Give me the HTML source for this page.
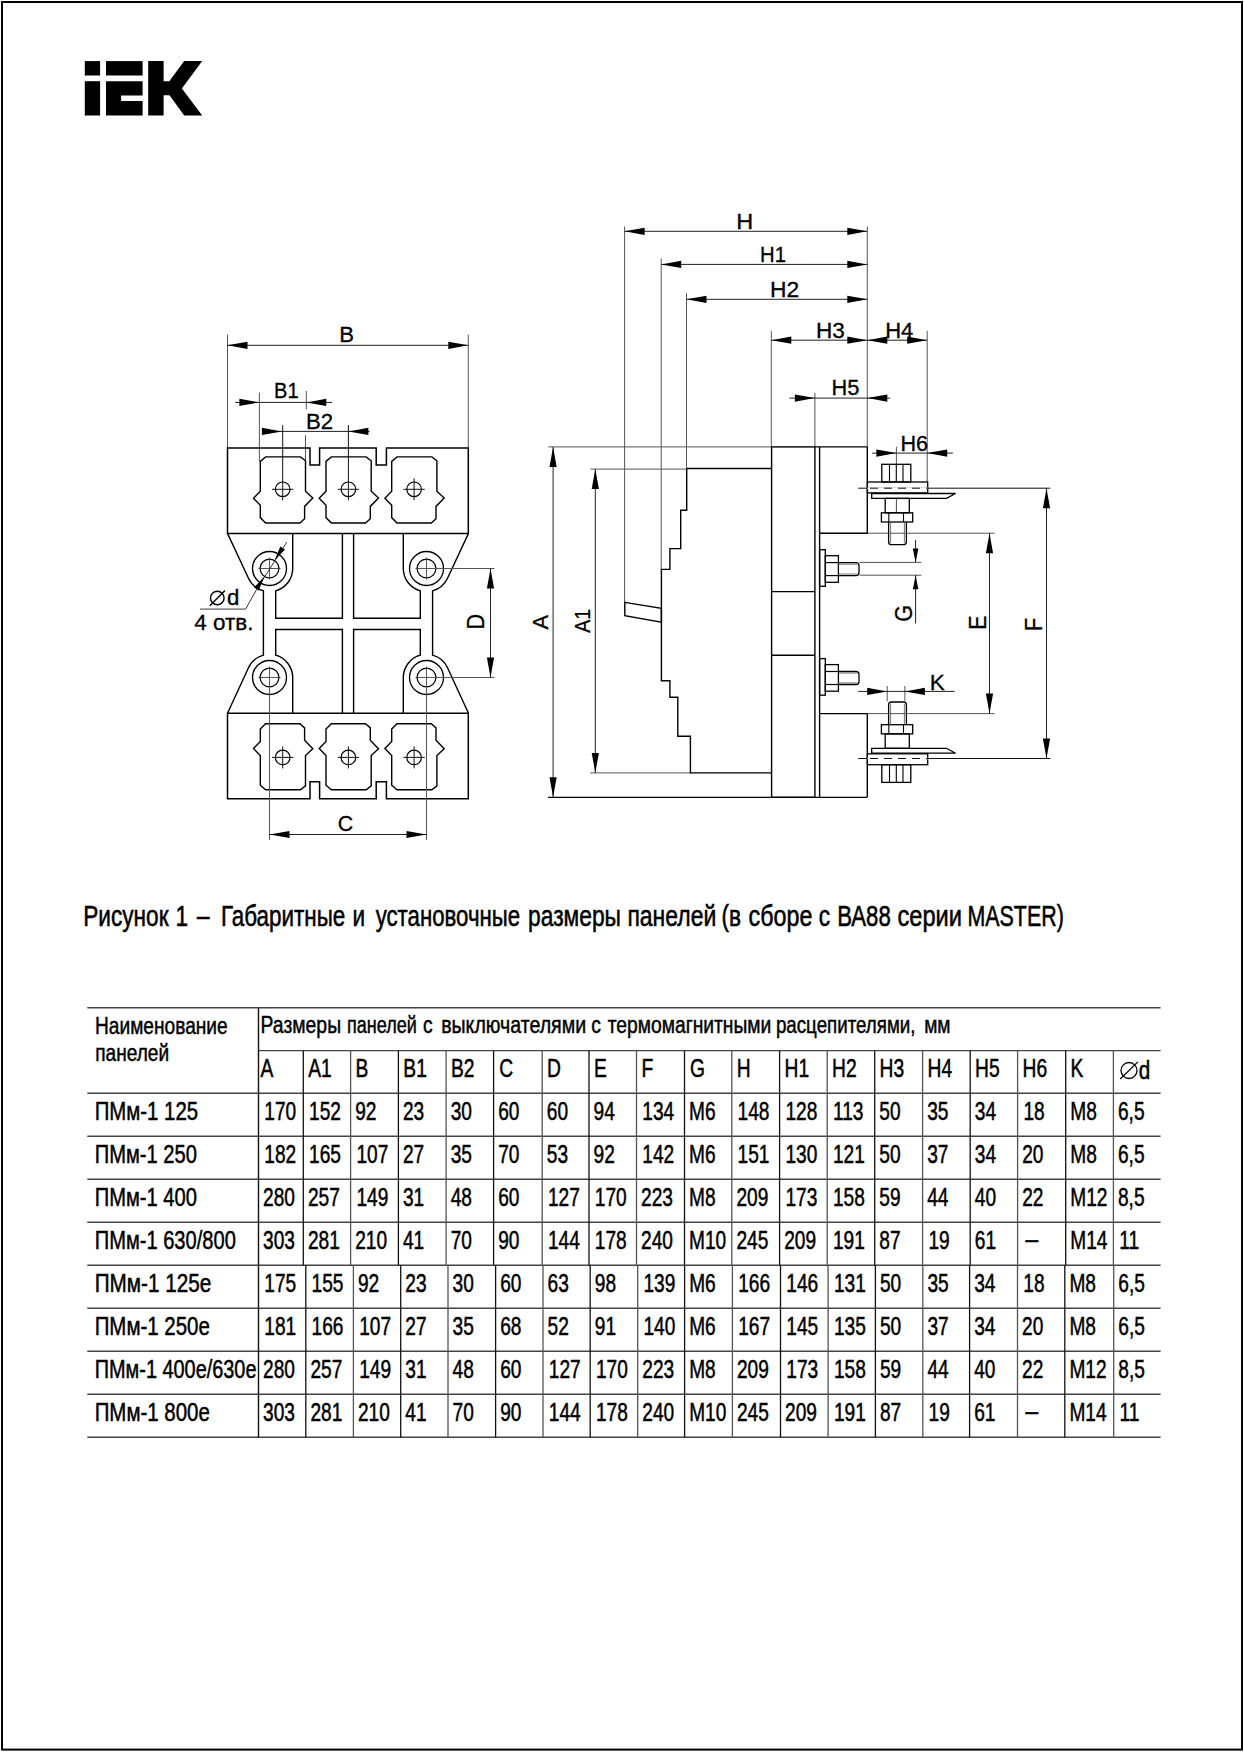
<!DOCTYPE html>
<html><head><meta charset="utf-8"><title>IEK</title><style>html,body{margin:0;padding:0;background:#fff;overflow:hidden}svg{display:block}</style></head><body>
<svg width="1244" height="1752" viewBox="0 0 1244 1752" font-family="'Liberation Sans', sans-serif">
<rect x="0" y="0" width="1244" height="1752" fill="#fff"/>
<rect x="2" y="2" width="1240" height="1747.6" fill="none" stroke="#000" stroke-width="2"/>
<g fill="#000">
<rect x="84.8" y="61.1" width="15.3" height="14.4"/>
<rect x="84.8" y="81.2" width="15.3" height="34.3"/>
<rect x="106" y="61.1" width="36.6" height="14.4"/>
<polygon points="106,81.2 142.6,81.2 142.6,95.5 121.1,95.5 121.1,100.9 142.6,100.9 142.6,115.5 106,115.5"/>
<polygon points="148.2,61.1 163.6,61.1 163.6,81.2 169.3,81.2 184.2,61.1 202.2,61.1 181.9,88.5 202.2,115.5 184.2,115.5 169.5,95.2 163.6,95.2 163.6,115.5 148.2,115.5"/>
</g>
<line x1="227.5" y1="334.6" x2="227.5" y2="448" stroke="#555" stroke-width="1.0"/>
<line x1="468.3" y1="334.6" x2="468.3" y2="448" stroke="#555" stroke-width="1.0"/>
<line x1="227.5" y1="345.3" x2="468.3" y2="345.3" stroke="#222" stroke-width="1.0"/>
<polygon points="227.5,345.3 247.5,341.7 247.5,348.9" fill="#000"/>
<polygon points="468.3,345.3 448.3,348.9 448.3,341.7" fill="#000"/>
<text transform="translate(339.17,341.9) scale(1.0435,1)" font-size="21.24" fill="#000" stroke="#000" stroke-width="0.3">B</text>
<line x1="259.4" y1="392.6" x2="259.4" y2="461.4" stroke="#555" stroke-width="1.0"/>
<line x1="306.3" y1="390.9" x2="306.3" y2="409.5" stroke="#555" stroke-width="1.0"/>
<line x1="305.5" y1="435.3" x2="305.5" y2="461" stroke="#555" stroke-width="1.0"/>
<line x1="235.2" y1="402.4" x2="332" y2="402.4" stroke="#222" stroke-width="1.0"/>
<polygon points="259.4,402.4 239.4,406 239.4,398.8" fill="#000"/>
<polygon points="306.3,402.4 326.3,398.8 326.3,406" fill="#000"/>
<text transform="translate(274.05,397.6) scale(0.9439,1)" font-size="21.24" fill="#000" stroke="#000" stroke-width="0.3">B1</text>
<line x1="262.5" y1="431.4" x2="369.5" y2="431.4" stroke="#222" stroke-width="1.0"/>
<polygon points="281.9,431.4 261.9,435 261.9,427.8" fill="#000"/>
<polygon points="348.4,431.4 368.4,427.8 368.4,435" fill="#000"/>
<text transform="translate(305.97,428.6) scale(1.0455,1)" font-size="21.24" fill="#000" stroke="#000" stroke-width="0.3">B2</text>
<polygon points="227.5,448 310,448 310,465 319.6,465 319.6,448 376.2,448 376.2,465 386.4,465 386.4,448 468.3,448 468.3,533.4 227.5,533.4" fill="none" stroke="#000" stroke-width="1.5" stroke-linejoin="miter"/>
<polygon points="265.6,456.9 300.5,456.9 305.5,460.8 305.5,491.2 312.8,498 304.6,506.4 304.6,518.8 299.9,523 265.6,523 260.3,517.6 260.3,505.3 253.5,498.3 260.3,491.2 260.3,461.4" fill="none" stroke="#000" stroke-width="1.4" stroke-linejoin="miter"/>
<circle cx="282.7" cy="489.3" r="7.3" fill="none" stroke="#000" stroke-width="1.2"/>
<line x1="272" y1="489.3" x2="293.4" y2="489.3" stroke="#111" stroke-width="1.0"/>
<line x1="282.7" y1="425.2" x2="282.7" y2="500.3" stroke="#111" stroke-width="1.0"/>
<polygon points="331.3,456.9 366.2,456.9 371.2,460.8 371.2,491.2 378.5,498 370.3,506.4 370.3,518.8 365.6,523 331.3,523 326,517.6 326,505.3 319.2,498.3 326,491.2 326,461.4" fill="none" stroke="#000" stroke-width="1.4" stroke-linejoin="miter"/>
<circle cx="348.4" cy="489.3" r="7.3" fill="none" stroke="#000" stroke-width="1.2"/>
<line x1="337.7" y1="489.3" x2="359.1" y2="489.3" stroke="#111" stroke-width="1.0"/>
<line x1="348.4" y1="425.2" x2="348.4" y2="500.3" stroke="#111" stroke-width="1.0"/>
<polygon points="397,456.9 431.9,456.9 436.9,460.8 436.9,491.2 444.2,498 436,506.4 436,518.8 431.3,523 397,523 391.7,517.6 391.7,505.3 384.9,498.3 391.7,491.2 391.7,461.4" fill="none" stroke="#000" stroke-width="1.4" stroke-linejoin="miter"/>
<circle cx="414.1" cy="489.3" r="7.3" fill="none" stroke="#000" stroke-width="1.2"/>
<line x1="403.4" y1="489.3" x2="424.8" y2="489.3" stroke="#111" stroke-width="1.0"/>
<line x1="414.1" y1="478.3" x2="414.1" y2="500.3" stroke="#111" stroke-width="1.0"/>
<polygon points="227.5,798.7 310,798.7 310,781.7 319.6,781.7 319.6,798.7 376.2,798.7 376.2,781.7 386.4,781.7 386.4,798.7 468.3,798.7 468.3,713.3 227.5,713.3" fill="none" stroke="#000" stroke-width="1.5" stroke-linejoin="miter"/>
<polygon points="265.6,789.8 300.5,789.8 305.5,785.9 305.5,755.5 312.8,748.7 304.6,740.3 304.6,727.9 299.9,723.7 265.6,723.7 260.3,729.1 260.3,741.4 253.5,748.4 260.3,755.5 260.3,785.3" fill="none" stroke="#000" stroke-width="1.4" stroke-linejoin="miter"/>
<circle cx="282.7" cy="757.4" r="7.3" fill="none" stroke="#000" stroke-width="1.2"/>
<line x1="272" y1="757.4" x2="293.4" y2="757.4" stroke="#111" stroke-width="1.0"/>
<line x1="282.7" y1="746.4" x2="282.7" y2="768.4" stroke="#111" stroke-width="1.0"/>
<polygon points="331.3,789.8 366.2,789.8 371.2,785.9 371.2,755.5 378.5,748.7 370.3,740.3 370.3,727.9 365.6,723.7 331.3,723.7 326,729.1 326,741.4 319.2,748.4 326,755.5 326,785.3" fill="none" stroke="#000" stroke-width="1.4" stroke-linejoin="miter"/>
<circle cx="348.4" cy="757.4" r="7.3" fill="none" stroke="#000" stroke-width="1.2"/>
<line x1="337.7" y1="757.4" x2="359.1" y2="757.4" stroke="#111" stroke-width="1.0"/>
<line x1="348.4" y1="746.4" x2="348.4" y2="768.4" stroke="#111" stroke-width="1.0"/>
<polygon points="397,789.8 431.9,789.8 436.9,785.9 436.9,755.5 444.2,748.7 436,740.3 436,727.9 431.3,723.7 397,723.7 391.7,729.1 391.7,741.4 384.9,748.4 391.7,755.5 391.7,785.3" fill="none" stroke="#000" stroke-width="1.4" stroke-linejoin="miter"/>
<circle cx="414.1" cy="757.4" r="7.3" fill="none" stroke="#000" stroke-width="1.2"/>
<line x1="403.4" y1="757.4" x2="424.8" y2="757.4" stroke="#111" stroke-width="1.0"/>
<line x1="414.1" y1="746.4" x2="414.1" y2="768.4" stroke="#111" stroke-width="1.0"/>
<circle cx="269.5" cy="568.5" r="9.4" fill="none" stroke="#000" stroke-width="1.3"/>
<circle cx="269.5" cy="568.5" r="17" fill="none" stroke="#000" stroke-width="1.3"/>
<line x1="258.5" y1="568.5" x2="280.5" y2="568.5" stroke="#444" stroke-width="0.9"/>
<line x1="269.5" y1="557.5" x2="269.5" y2="579.5" stroke="#444" stroke-width="0.9"/>
<circle cx="426.5" cy="568.5" r="9.4" fill="none" stroke="#000" stroke-width="1.3"/>
<circle cx="426.5" cy="568.5" r="17" fill="none" stroke="#000" stroke-width="1.3"/>
<line x1="415.5" y1="568.5" x2="437.5" y2="568.5" stroke="#444" stroke-width="0.9"/>
<line x1="426.5" y1="557.5" x2="426.5" y2="579.5" stroke="#444" stroke-width="0.9"/>
<circle cx="269.5" cy="677.5" r="9.4" fill="none" stroke="#000" stroke-width="1.3"/>
<circle cx="269.5" cy="677.5" r="17" fill="none" stroke="#000" stroke-width="1.3"/>
<line x1="258.5" y1="677.5" x2="280.5" y2="677.5" stroke="#444" stroke-width="0.9"/>
<line x1="269.5" y1="666.5" x2="269.5" y2="688.5" stroke="#444" stroke-width="0.9"/>
<circle cx="426.5" cy="677.5" r="9.4" fill="none" stroke="#000" stroke-width="1.3"/>
<circle cx="426.5" cy="677.5" r="17" fill="none" stroke="#000" stroke-width="1.3"/>
<line x1="415.5" y1="677.5" x2="437.5" y2="677.5" stroke="#444" stroke-width="0.9"/>
<line x1="426.5" y1="666.5" x2="426.5" y2="688.5" stroke="#444" stroke-width="0.9"/>
<path d="M227.5,533.4 L248.48,578.32 A23.2,23.2 0 0 0 263.4,590.88 L263.4,655.12 A23.2,23.2 0 0 0 248.48,667.68 L227.5,713.3" fill="none" stroke="#000" stroke-width="1.4"/>
<path d="M292.7,533.4 L292.7,568.5 A23.2,23.2 0 0 1 275.7,590.86 L275.7,618.2 L342.4,618.2 L342.4,533.4" fill="none" stroke="#000" stroke-width="1.4"/>
<path d="M292.7,713.3 L292.7,677.5 A23.2,23.2 0 0 0 275.7,655.14 L275.7,629.5 L342.4,629.5 L342.4,713.3" fill="none" stroke="#000" stroke-width="1.4"/>
<path d="M468.5,533.4 L447.52,578.32 A23.2,23.2 0 0 1 432.6,590.88 L432.6,655.12 A23.2,23.2 0 0 1 447.52,667.68 L468.5,713.3" fill="none" stroke="#000" stroke-width="1.4"/>
<path d="M403.3,533.4 L403.3,568.5 A23.2,23.2 0 0 0 420.3,590.86 L420.3,618.2 L353.6,618.2 L353.6,533.4" fill="none" stroke="#000" stroke-width="1.4"/>
<path d="M403.3,713.3 L403.3,677.5 A23.2,23.2 0 0 1 420.3,655.14 L420.3,629.5 L353.6,629.5 L353.6,713.3" fill="none" stroke="#000" stroke-width="1.4"/>
<line x1="286.8" y1="542" x2="256.4" y2="589.8" stroke="#222" stroke-width="0.9"/>
<line x1="256.4" y1="589.8" x2="245.6" y2="609.1" stroke="#222" stroke-width="0.9"/>
<line x1="245.6" y1="609.1" x2="199.9" y2="609.1" stroke="#222" stroke-width="0.9"/>
<polygon points="274.56,560.58 280.32,546.45 284.95,549.42" fill="#000"/>
<polygon points="264.44,576.42 258.68,590.55 254.05,587.58" fill="#000"/>
<circle cx="217.3" cy="598" r="6.8" fill="none" stroke="#000" stroke-width="1.4"/>
<line x1="209.8" y1="605.8" x2="225" y2="590.4" stroke="#000" stroke-width="1.4"/>
<text transform="translate(227.06,605.2) scale(1.0393,1)" font-size="21.38" fill="#000" stroke="#000" stroke-width="0.3">d</text>
<text transform="translate(194.3,630.3) scale(1.0017,1)" font-size="22.40" fill="#000" stroke="#000" stroke-width="0.3">4 отв.</text>
<line x1="426.5" y1="568.5" x2="494.4" y2="568.5" stroke="#555" stroke-width="1.0"/>
<line x1="426.5" y1="677.5" x2="494.4" y2="677.5" stroke="#555" stroke-width="1.0"/>
<line x1="490.5" y1="568.5" x2="490.5" y2="677.5" stroke="#222" stroke-width="1.0"/>
<polygon points="490.5,568.5 494.1,588.5 486.9,588.5" fill="#000"/>
<polygon points="490.5,677.5 486.9,657.5 494.1,657.5" fill="#000"/>
<text transform="translate(484.3,629.48) rotate(-90) scale(0.9225,1)" font-size="23.42" fill="#000" stroke="#000" stroke-width="0.3">D</text>
<line x1="269.5" y1="677.5" x2="269.5" y2="840" stroke="#555" stroke-width="1.0"/>
<line x1="426.5" y1="677.5" x2="426.5" y2="840" stroke="#555" stroke-width="1.0"/>
<line x1="269.5" y1="834.5" x2="426.5" y2="834.5" stroke="#222" stroke-width="1.0"/>
<polygon points="269.5,834.5 289.5,830.9 289.5,838.1" fill="#000"/>
<polygon points="426.5,834.5 406.5,838.1 406.5,830.9" fill="#000"/>
<text transform="translate(337.63,831.1) scale(1.0051,1)" font-size="21.24" fill="#000" stroke="#000" stroke-width="0.3">C</text>
<line x1="624.6" y1="226.4" x2="624.6" y2="602.4" stroke="#555" stroke-width="1.0"/>
<line x1="661.2" y1="258.5" x2="661.2" y2="569.4" stroke="#555" stroke-width="1.0"/>
<line x1="686.5" y1="293.4" x2="686.5" y2="468.6" stroke="#555" stroke-width="1.0"/>
<line x1="771.3" y1="330.9" x2="771.3" y2="447" stroke="#555" stroke-width="1.0"/>
<line x1="867.3" y1="226.4" x2="867.3" y2="447" stroke="#555" stroke-width="1.0"/>
<line x1="927.2" y1="330.9" x2="927.2" y2="482" stroke="#555" stroke-width="1.0"/>
<line x1="814.9" y1="392.8" x2="814.9" y2="447" stroke="#555" stroke-width="1.0"/>
<line x1="896.4" y1="446.7" x2="896.4" y2="464.3" stroke="#555" stroke-width="1.0"/>
<line x1="624.6" y1="231.3" x2="867.3" y2="231.3" stroke="#222" stroke-width="1.0"/>
<polygon points="624.6,231.3 644.6,227.7 644.6,234.9" fill="#000"/>
<polygon points="867.3,231.3 847.3,234.9 847.3,227.7" fill="#000"/>
<text transform="translate(736.16,228.7) scale(1.0559,1)" font-size="22.25" fill="#000" stroke="#000" stroke-width="0.3">H</text>
<line x1="661.2" y1="264.4" x2="867.3" y2="264.4" stroke="#222" stroke-width="1.0"/>
<polygon points="661.2,264.4 681.2,260.8 681.2,268" fill="#000"/>
<polygon points="867.3,264.4 847.3,268 847.3,260.8" fill="#000"/>
<text transform="translate(760.12,261.9) scale(0.9124,1)" font-size="22.25" fill="#000" stroke="#000" stroke-width="0.3">H1</text>
<line x1="686.5" y1="299.3" x2="867.3" y2="299.3" stroke="#222" stroke-width="1.0"/>
<polygon points="686.5,299.3 706.5,295.7 706.5,302.9" fill="#000"/>
<polygon points="867.3,299.3 847.3,302.9 847.3,295.7" fill="#000"/>
<text transform="translate(770.01,296.8) scale(1.0282,1)" font-size="22.25" fill="#000" stroke="#000" stroke-width="0.3">H2</text>
<line x1="771.3" y1="340.2" x2="927.2" y2="340.2" stroke="#222" stroke-width="1.0"/>
<polygon points="771.3,340.2 791.3,336.6 791.3,343.8" fill="#000"/>
<polygon points="867.3,340.2 847.3,343.8 847.3,336.6" fill="#000"/>
<polygon points="867.3,340.2 887.3,336.6 887.3,343.8" fill="#000"/>
<polygon points="927.2,340.2 907.2,343.8 907.2,336.6" fill="#000"/>
<text transform="translate(816.04,337.7) scale(1.0480,1)" font-size="21.53" fill="#000" stroke="#000" stroke-width="0.3">H3</text>
<text transform="translate(885.18,337.7) scale(1.0226,1)" font-size="21.53" fill="#000" stroke="#000" stroke-width="0.3">H4</text>
<line x1="789.4" y1="398.1" x2="890.2" y2="398.1" stroke="#222" stroke-width="1.0"/>
<polygon points="814.9,398.1 794.9,401.7 794.9,394.5" fill="#000"/>
<polygon points="867.3,398.1 887.3,394.5 887.3,401.7" fill="#000"/>
<text transform="translate(831.4,395.2) scale(1.0135,1)" font-size="21.53" fill="#000" stroke="#000" stroke-width="0.3">H5</text>
<line x1="872.2" y1="453.1" x2="952.9" y2="453.1" stroke="#222" stroke-width="1.0"/>
<polygon points="896.4,453.1 876.4,456.7 876.4,449.5" fill="#000"/>
<polygon points="927.2,453.1 947.2,449.5 947.2,456.7" fill="#000"/>
<text transform="translate(900.52,451.2) scale(0.9902,1)" font-size="21.82" fill="#000" stroke="#000" stroke-width="0.3">H6</text>
<line x1="548.3" y1="446.9" x2="771.6" y2="446.9" stroke="#555" stroke-width="1.0"/>
<line x1="548" y1="797.3" x2="867.3" y2="797.3" stroke="#000" stroke-width="1.3"/>
<line x1="553.1" y1="446.9" x2="553.1" y2="797.3" stroke="#222" stroke-width="1.0"/>
<polygon points="553.1,446.9 556.7,466.9 549.5,466.9" fill="#000"/>
<polygon points="553.1,797.3 549.5,777.3 556.7,777.3" fill="#000"/>
<text transform="translate(547.9,629.45) rotate(-90) scale(0.9584,1)" font-size="22.84" fill="#000" stroke="#000" stroke-width="0.3">A</text>
<line x1="590.3" y1="469.1" x2="686.7" y2="469.1" stroke="#555" stroke-width="1.0"/>
<line x1="590.3" y1="772.9" x2="690.4" y2="772.9" stroke="#555" stroke-width="1.0"/>
<line x1="595.3" y1="469.1" x2="595.3" y2="772.9" stroke="#222" stroke-width="1.0"/>
<polygon points="595.3,469.1 598.9,489.1 591.7,489.1" fill="#000"/>
<polygon points="595.3,772.9 591.7,752.9 598.9,752.9" fill="#000"/>
<text transform="translate(590,632.65) rotate(-90) scale(0.8607,1)" font-size="22.69" fill="#000" stroke="#000" stroke-width="0.3">A1</text>
<polyline points="686.7,468.6 771.6,468.6" fill="none" stroke="#000" stroke-width="1.5" stroke-linejoin="miter"/>
<polyline points="686.7,468.6 686.7,510.3 680.7,510.3 680.7,548.6 669.9,548.6 669.9,569.4 661.4,569.4 661.4,680.8 669.9,680.8 669.9,697.2 677.8,697.2 677.8,736.2 690.4,736.2 690.4,772.9 771.6,772.9" fill="none" stroke="#000" stroke-width="1.4" stroke-linejoin="miter"/>
<polygon points="624.8,602.4 661.4,608.4 661.4,622.2 624.8,615.7" fill="none" stroke="#000" stroke-width="1.4" stroke-linejoin="miter"/>
<rect x="771.6" y="446.9" width="43.3" height="350.4" fill="none" stroke="#000" stroke-width="1.4"/>
<line x1="819.6" y1="446.9" x2="819.6" y2="797.3" stroke="#000" stroke-width="1.4"/>
<line x1="771.6" y1="591.6" x2="814.9" y2="591.6" stroke="#000" stroke-width="1.4"/>
<line x1="771.6" y1="655.3" x2="814.9" y2="655.3" stroke="#000" stroke-width="1.4"/>
<line x1="814.9" y1="446.9" x2="867.3" y2="446.9" stroke="#000" stroke-width="1.4"/>
<polyline points="867.3,446.9 867.3,533.2 819.6,533.2" fill="none" stroke="#000" stroke-width="1.4" stroke-linejoin="miter"/>
<polyline points="819.6,713.6 867.3,713.6 867.3,797.3" fill="none" stroke="#000" stroke-width="1.4" stroke-linejoin="miter"/>
<rect x="819.6" y="549.7" width="5.7" height="36.6" fill="none" stroke="#000" stroke-width="1.3"/>
<rect x="825.3" y="555.7" width="13.1" height="26.6" fill="none" stroke="#000" stroke-width="1.3"/>
<line x1="825.3" y1="562.6" x2="838.4" y2="562.6" stroke="#000" stroke-width="1.2"/>
<line x1="825.3" y1="575.6" x2="838.4" y2="575.6" stroke="#000" stroke-width="1.2"/>
<path d="M838.4,562.6 L856,562.6 Q859,562.6 859,565.6 L859,572.6 Q859,575.6 856,575.6 L838.4,575.6" fill="none" stroke="#000" stroke-width="1.3"/>
<line x1="838.4" y1="564.2" x2="857" y2="564.2" stroke="#555" stroke-width="0.8"/>
<line x1="838.4" y1="574" x2="857" y2="574" stroke="#555" stroke-width="0.8"/>
<rect x="819.6" y="658.6" width="5.7" height="36.6" fill="none" stroke="#000" stroke-width="1.3"/>
<rect x="825.3" y="664.6" width="13.1" height="26.6" fill="none" stroke="#000" stroke-width="1.3"/>
<line x1="825.3" y1="671.5" x2="838.4" y2="671.5" stroke="#000" stroke-width="1.2"/>
<line x1="825.3" y1="684.5" x2="838.4" y2="684.5" stroke="#000" stroke-width="1.2"/>
<path d="M838.4,671.5 L856,671.5 Q859,671.5 859,674.5 L859,681.5 Q859,684.5 856,684.5 L838.4,684.5" fill="none" stroke="#000" stroke-width="1.3"/>
<line x1="838.4" y1="673.1" x2="857" y2="673.1" stroke="#555" stroke-width="0.8"/>
<line x1="838.4" y1="682.9" x2="857" y2="682.9" stroke="#555" stroke-width="0.8"/>
<rect x="867.4" y="482" width="60.3" height="10.9" fill="none" stroke="#000" stroke-width="1.3"/>
<line x1="858.2" y1="488.2" x2="1050.3" y2="488.2" stroke="#111" stroke-width="1.0"/>
<line x1="867.4" y1="488.2" x2="927.7" y2="488.2" stroke="#fff" stroke-width="1.4"/>
<line x1="870" y1="488.2" x2="927.7" y2="488.2" stroke="#111" stroke-width="1.0" stroke-dasharray="8,6"/>
<polygon points="871.7,493.5 955.6,493.5 946.5,498.4 871.7,498.4" fill="none" stroke="#000" stroke-width="1.3" stroke-linejoin="miter"/>
<rect x="881.8" y="464.3" width="29" height="17.7" fill="none" stroke="#000" stroke-width="1.3"/>
<line x1="889.5" y1="464.3" x2="889.5" y2="482" stroke="#000" stroke-width="1.1"/>
<line x1="896.3" y1="464.3" x2="896.3" y2="482" stroke="#000" stroke-width="1.1"/>
<line x1="903" y1="464.3" x2="903" y2="482" stroke="#000" stroke-width="1.1"/>
<rect x="885.2" y="498.4" width="24.1" height="14.4" fill="none" stroke="#000" stroke-width="1.3"/>
<line x1="896.4" y1="498.4" x2="896.4" y2="512.8" stroke="#333" stroke-width="0.9"/>
<rect x="881.4" y="512.8" width="31.3" height="9.2" fill="none" stroke="#000" stroke-width="1.3"/>
<line x1="888.8" y1="512.8" x2="888.8" y2="522" stroke="#000" stroke-width="1.1"/>
<line x1="903.5" y1="512.8" x2="903.5" y2="522" stroke="#000" stroke-width="1.1"/>
<path d="M888.6,522 L888.6,541.7 Q888.6,544.7 891.6,544.7 L903.4,544.7 Q906.4,544.7 906.4,541.7 L906.4,522" fill="none" stroke="#000" stroke-width="1.3"/>
<line x1="890.6" y1="522" x2="890.6" y2="542.7" stroke="#555" stroke-width="0.8"/>
<line x1="904.4" y1="522" x2="904.4" y2="542.7" stroke="#555" stroke-width="0.8"/>
<rect x="867.4" y="753.8" width="60.3" height="10.9" fill="none" stroke="#000" stroke-width="1.3"/>
<line x1="858.2" y1="758.5" x2="1050.3" y2="758.5" stroke="#111" stroke-width="1.0"/>
<line x1="867.4" y1="758.5" x2="927.7" y2="758.5" stroke="#fff" stroke-width="1.4"/>
<line x1="870" y1="758.5" x2="927.7" y2="758.5" stroke="#111" stroke-width="1.0" stroke-dasharray="8,6"/>
<polygon points="871.7,753.2 955.6,753.2 946.5,748.3 871.7,748.3" fill="none" stroke="#000" stroke-width="1.3" stroke-linejoin="miter"/>
<rect x="881.8" y="764.7" width="29" height="17.7" fill="none" stroke="#000" stroke-width="1.3"/>
<line x1="889.5" y1="782.4" x2="889.5" y2="764.7" stroke="#000" stroke-width="1.1"/>
<line x1="896.3" y1="782.4" x2="896.3" y2="764.7" stroke="#000" stroke-width="1.1"/>
<line x1="903" y1="782.4" x2="903" y2="764.7" stroke="#000" stroke-width="1.1"/>
<rect x="885.2" y="733.9" width="24.1" height="14.4" fill="none" stroke="#000" stroke-width="1.3"/>
<rect x="881.4" y="724.7" width="31.3" height="9.2" fill="none" stroke="#000" stroke-width="1.3"/>
<line x1="888.8" y1="733.9" x2="888.8" y2="724.7" stroke="#000" stroke-width="1.1"/>
<line x1="903.5" y1="733.9" x2="903.5" y2="724.7" stroke="#000" stroke-width="1.1"/>
<path d="M888.6,724.7 L888.6,705 Q888.6,702 891.6,702 L903.4,702 Q906.4,702 906.4,705 L906.4,724.7" fill="none" stroke="#000" stroke-width="1.3"/>
<line x1="890.6" y1="724.7" x2="890.6" y2="704" stroke="#555" stroke-width="0.8"/>
<line x1="904.4" y1="724.7" x2="904.4" y2="704" stroke="#555" stroke-width="0.8"/>
<line x1="867.3" y1="533.2" x2="994.6" y2="533.2" stroke="#555" stroke-width="1.0"/>
<line x1="867.3" y1="713.6" x2="994.6" y2="713.6" stroke="#555" stroke-width="1.0"/>
<line x1="989.5" y1="533.2" x2="989.5" y2="713.6" stroke="#222" stroke-width="1.0"/>
<polygon points="989.5,533.2 993.1,553.2 985.9,553.2" fill="#000"/>
<polygon points="989.5,713.6 985.9,693.6 993.1,693.6" fill="#000"/>
<text transform="translate(986.1,629.76) rotate(-90) scale(0.9019,1)" font-size="23.71" fill="#000" stroke="#000" stroke-width="0.3">E</text>
<line x1="1046.5" y1="488.2" x2="1046.5" y2="758.5" stroke="#222" stroke-width="1.0"/>
<polygon points="1046.5,488.2 1050.1,508.2 1042.9,508.2" fill="#000"/>
<polygon points="1046.5,758.5 1042.9,738.5 1050.1,738.5" fill="#000"/>
<text transform="translate(1042.4,630.98) rotate(-90) scale(0.9084,1)" font-size="23.71" fill="#000" stroke="#000" stroke-width="0.3">F</text>
<line x1="859.5" y1="562.4" x2="921.4" y2="562.4" stroke="#555" stroke-width="1.0"/>
<line x1="859.5" y1="575.2" x2="921.4" y2="575.2" stroke="#555" stroke-width="1.0"/>
<line x1="915.6" y1="540.1" x2="915.6" y2="562.4" stroke="#222" stroke-width="1.0"/>
<line x1="915.6" y1="575.2" x2="915.6" y2="623.4" stroke="#222" stroke-width="1.0"/>
<polygon points="915.6,562.4 912.85,548.4 918.35,548.4" fill="#000"/>
<polygon points="915.6,575.2 918.35,589.2 912.85,589.2" fill="#000"/>
<text transform="translate(912.4,621.68) rotate(-90) scale(0.9114,1)" font-size="23.71" fill="#000" stroke="#000" stroke-width="0.3">G</text>
<line x1="887.2" y1="686" x2="887.2" y2="701.4" stroke="#555" stroke-width="1.0"/>
<line x1="904.9" y1="686" x2="904.9" y2="701.4" stroke="#555" stroke-width="1.0"/>
<line x1="858.2" y1="691.4" x2="954.7" y2="691.4" stroke="#222" stroke-width="1.0"/>
<polygon points="887.2,691.4 867.2,695 867.2,687.8" fill="#000"/>
<polygon points="904.9,691.4 924.9,687.8 924.9,695" fill="#000"/>
<text transform="translate(929.64,689.6) scale(1.0192,1)" font-size="22.11" fill="#000" stroke="#000" stroke-width="0.3">K</text>
<text transform="translate(83.23,926.3) scale(0.7802,1)" font-size="29.00" fill="#000" stroke="#000" stroke-width="0.55">Рисунок</text>
<text transform="translate(175.5,926.3) scale(0.7800,1)" font-size="29.00" fill="#000" stroke="#000" stroke-width="0.55">1</text>
<text transform="translate(197,926.3) scale(0.7800,1)" font-size="29.00" fill="#000" stroke="#000" stroke-width="0.55">–</text>
<text transform="translate(220.95,926.3) scale(0.7733,1)" font-size="29.00" fill="#000" stroke="#000" stroke-width="0.55">Габаритные</text>
<text transform="translate(352.42,926.3) scale(0.7800,1)" font-size="29.00" fill="#000" stroke="#000" stroke-width="0.55">и</text>
<text transform="translate(375.64,926.3) scale(0.7663,1)" font-size="29.00" fill="#000" stroke="#000" stroke-width="0.55">установочные</text>
<text transform="translate(528.02,926.3) scale(0.7867,1)" font-size="29.00" fill="#000" stroke="#000" stroke-width="0.55">размеры</text>
<text transform="translate(627.39,926.3) scale(0.7917,1)" font-size="29.00" fill="#000" stroke="#000" stroke-width="0.55">панелей</text>
<text transform="translate(721.49,926.3) scale(0.7800,1)" font-size="29.00" fill="#000" stroke="#000" stroke-width="0.55">(в</text>
<text transform="translate(748.61,926.3) scale(0.8026,1)" font-size="29.00" fill="#000" stroke="#000" stroke-width="0.55">сборе</text>
<text transform="translate(818.74,926.3) scale(0.7800,1)" font-size="29.00" fill="#000" stroke="#000" stroke-width="0.55">с</text>
<text transform="translate(837.17,926.3) scale(0.7658,1)" font-size="29.00" fill="#000" stroke="#000" stroke-width="0.55">ВА88</text>
<text transform="translate(897.49,926.3) scale(0.8155,1)" font-size="29.00" fill="#000" stroke="#000" stroke-width="0.55">серии</text>
<text transform="translate(967.43,926.3) scale(0.7387,1)" font-size="29.00" fill="#000" stroke="#000" stroke-width="0.55">MASTER)</text>
<line x1="87.3" y1="1007.7" x2="1160.6" y2="1007.7" stroke="#444" stroke-width="1.4"/>
<line x1="258.5" y1="1050.6" x2="1160.6" y2="1050.6" stroke="#444" stroke-width="1.4"/>
<line x1="87.3" y1="1093.3" x2="1160.6" y2="1093.3" stroke="#444" stroke-width="1.4"/>
<line x1="87.3" y1="1136.3" x2="1160.6" y2="1136.3" stroke="#444" stroke-width="1.4"/>
<line x1="87.3" y1="1179.3" x2="1160.6" y2="1179.3" stroke="#444" stroke-width="1.4"/>
<line x1="87.3" y1="1222.3" x2="1160.6" y2="1222.3" stroke="#444" stroke-width="1.4"/>
<line x1="87.3" y1="1265.3" x2="1160.6" y2="1265.3" stroke="#444" stroke-width="1.4"/>
<line x1="87.3" y1="1308.3" x2="1160.6" y2="1308.3" stroke="#444" stroke-width="1.4"/>
<line x1="87.3" y1="1351.3" x2="1160.6" y2="1351.3" stroke="#444" stroke-width="1.4"/>
<line x1="87.3" y1="1394.3" x2="1160.6" y2="1394.3" stroke="#444" stroke-width="1.4"/>
<line x1="87.3" y1="1437.3" x2="1160.6" y2="1437.3" stroke="#444" stroke-width="1.4"/>
<line x1="258.5" y1="1007.7" x2="258.5" y2="1437.3" stroke="#111" stroke-width="1.4"/>
<line x1="303.3" y1="1050.6" x2="303.3" y2="1265.3" stroke="#111" stroke-width="1.3"/>
<line x1="350.6" y1="1050.6" x2="350.6" y2="1265.3" stroke="#555" stroke-width="1.3"/>
<line x1="398.4" y1="1050.6" x2="398.4" y2="1265.3" stroke="#111" stroke-width="1.3"/>
<line x1="446.1" y1="1050.6" x2="446.1" y2="1265.3" stroke="#555" stroke-width="1.3"/>
<line x1="493.6" y1="1050.6" x2="493.6" y2="1265.3" stroke="#111" stroke-width="1.3"/>
<line x1="542.2" y1="1050.6" x2="542.2" y2="1265.3" stroke="#555" stroke-width="1.3"/>
<line x1="589" y1="1050.6" x2="589" y2="1265.3" stroke="#111" stroke-width="1.3"/>
<line x1="636.5" y1="1050.6" x2="636.5" y2="1265.3" stroke="#555" stroke-width="1.3"/>
<line x1="684.5" y1="1050.6" x2="684.5" y2="1265.3" stroke="#111" stroke-width="1.3"/>
<line x1="731.8" y1="1050.6" x2="731.8" y2="1265.3" stroke="#555" stroke-width="1.3"/>
<line x1="779.6" y1="1050.6" x2="779.6" y2="1265.3" stroke="#111" stroke-width="1.3"/>
<line x1="827.2" y1="1050.6" x2="827.2" y2="1265.3" stroke="#555" stroke-width="1.3"/>
<line x1="874.7" y1="1050.6" x2="874.7" y2="1265.3" stroke="#111" stroke-width="1.3"/>
<line x1="922.6" y1="1050.6" x2="922.6" y2="1265.3" stroke="#555" stroke-width="1.3"/>
<line x1="970.2" y1="1050.6" x2="970.2" y2="1265.3" stroke="#111" stroke-width="1.3"/>
<line x1="1017.6" y1="1050.6" x2="1017.6" y2="1265.3" stroke="#555" stroke-width="1.3"/>
<line x1="1065.7" y1="1050.6" x2="1065.7" y2="1265.3" stroke="#111" stroke-width="1.3"/>
<line x1="1113.4" y1="1050.6" x2="1113.4" y2="1265.3" stroke="#555" stroke-width="1.3"/>
<line x1="305.8" y1="1265.3" x2="305.8" y2="1437.3" stroke="#111" stroke-width="1.3"/>
<line x1="353.4" y1="1265.3" x2="353.4" y2="1437.3" stroke="#555" stroke-width="1.3"/>
<line x1="400.7" y1="1265.3" x2="400.7" y2="1437.3" stroke="#111" stroke-width="1.3"/>
<line x1="448" y1="1265.3" x2="448" y2="1437.3" stroke="#555" stroke-width="1.3"/>
<line x1="495.6" y1="1265.3" x2="495.6" y2="1437.3" stroke="#111" stroke-width="1.3"/>
<line x1="543" y1="1265.3" x2="543" y2="1437.3" stroke="#555" stroke-width="1.3"/>
<line x1="590.2" y1="1265.3" x2="590.2" y2="1437.3" stroke="#111" stroke-width="1.3"/>
<line x1="637.7" y1="1265.3" x2="637.7" y2="1437.3" stroke="#555" stroke-width="1.3"/>
<line x1="684.6" y1="1265.3" x2="684.6" y2="1437.3" stroke="#111" stroke-width="1.3"/>
<line x1="732.4" y1="1265.3" x2="732.4" y2="1437.3" stroke="#555" stroke-width="1.3"/>
<line x1="780.5" y1="1265.3" x2="780.5" y2="1437.3" stroke="#111" stroke-width="1.3"/>
<line x1="828.1" y1="1265.3" x2="828.1" y2="1437.3" stroke="#555" stroke-width="1.3"/>
<line x1="875.4" y1="1265.3" x2="875.4" y2="1437.3" stroke="#111" stroke-width="1.3"/>
<line x1="922.8" y1="1265.3" x2="922.8" y2="1437.3" stroke="#555" stroke-width="1.3"/>
<line x1="969.6" y1="1265.3" x2="969.6" y2="1437.3" stroke="#111" stroke-width="1.3"/>
<line x1="1017.5" y1="1265.3" x2="1017.5" y2="1437.3" stroke="#555" stroke-width="1.3"/>
<line x1="1064.8" y1="1265.3" x2="1064.8" y2="1437.3" stroke="#111" stroke-width="1.3"/>
<line x1="1113.7" y1="1265.3" x2="1113.7" y2="1437.3" stroke="#555" stroke-width="1.3"/>
<text transform="translate(95.02,1033.5) scale(0.7784,1)" font-size="24.60" fill="#000" stroke="#000" stroke-width="0.5">Наименование</text>
<text transform="translate(95.26,1061.2) scale(0.7754,1)" font-size="24.60" fill="#000" stroke="#000" stroke-width="0.5">панелей</text>
<text transform="translate(260.6,1033.3) scale(0.7876,1)" font-size="24.60" fill="#000" stroke="#000" stroke-width="0.5">Размеры</text>
<text transform="translate(346.94,1033.3) scale(0.7340,1)" font-size="24.60" fill="#000" stroke="#000" stroke-width="0.5">панелей</text>
<text transform="translate(422.88,1033.3) scale(0.7800,1)" font-size="24.60" fill="#000" stroke="#000" stroke-width="0.5">с</text>
<text transform="translate(441.13,1033.3) scale(0.7965,1)" font-size="24.60" fill="#000" stroke="#000" stroke-width="0.5">выключателями</text>
<text transform="translate(591.28,1033.3) scale(0.7800,1)" font-size="24.60" fill="#000" stroke="#000" stroke-width="0.5">с</text>
<text transform="translate(607.76,1033.3) scale(0.7830,1)" font-size="24.60" fill="#000" stroke="#000" stroke-width="0.5">термомагнитными</text>
<text transform="translate(775.88,1033.3) scale(0.7626,1)" font-size="24.60" fill="#000" stroke="#000" stroke-width="0.5">расцепителями,</text>
<text transform="translate(924.16,1033.3) scale(0.7800,1)" font-size="24.60" fill="#000" stroke="#000" stroke-width="0.5">мм</text>
<text transform="translate(260.55,1076.9) scale(0.7600,1)" font-size="25.30" fill="#000" stroke="#000" stroke-width="0.5">A</text>
<text transform="translate(308.15,1076.9) scale(0.7600,1)" font-size="25.30" fill="#000" stroke="#000" stroke-width="0.5">A1</text>
<text transform="translate(355.51,1076.9) scale(0.7600,1)" font-size="25.30" fill="#000" stroke="#000" stroke-width="0.5">B</text>
<text transform="translate(403.31,1076.9) scale(0.7600,1)" font-size="25.30" fill="#000" stroke="#000" stroke-width="0.5">B1</text>
<text transform="translate(451.01,1076.9) scale(0.7600,1)" font-size="25.30" fill="#000" stroke="#000" stroke-width="0.5">B2</text>
<text transform="translate(499.14,1076.9) scale(0.7600,1)" font-size="25.30" fill="#000" stroke="#000" stroke-width="0.5">C</text>
<text transform="translate(547.11,1076.9) scale(0.7600,1)" font-size="25.30" fill="#000" stroke="#000" stroke-width="0.5">D</text>
<text transform="translate(593.91,1076.9) scale(0.7600,1)" font-size="25.30" fill="#000" stroke="#000" stroke-width="0.5">E</text>
<text transform="translate(641.41,1076.9) scale(0.7600,1)" font-size="25.30" fill="#000" stroke="#000" stroke-width="0.5">F</text>
<text transform="translate(690.04,1076.9) scale(0.7600,1)" font-size="25.30" fill="#000" stroke="#000" stroke-width="0.5">G</text>
<text transform="translate(736.71,1076.9) scale(0.7600,1)" font-size="25.30" fill="#000" stroke="#000" stroke-width="0.5">H</text>
<text transform="translate(784.51,1076.9) scale(0.7600,1)" font-size="25.30" fill="#000" stroke="#000" stroke-width="0.5">H1</text>
<text transform="translate(832.11,1076.9) scale(0.7600,1)" font-size="25.30" fill="#000" stroke="#000" stroke-width="0.5">H2</text>
<text transform="translate(879.61,1076.9) scale(0.7600,1)" font-size="25.30" fill="#000" stroke="#000" stroke-width="0.5">H3</text>
<text transform="translate(927.51,1076.9) scale(0.7600,1)" font-size="25.30" fill="#000" stroke="#000" stroke-width="0.5">H4</text>
<text transform="translate(975.11,1076.9) scale(0.7600,1)" font-size="25.30" fill="#000" stroke="#000" stroke-width="0.5">H5</text>
<text transform="translate(1022.51,1076.9) scale(0.7600,1)" font-size="25.30" fill="#000" stroke="#000" stroke-width="0.5">H6</text>
<text transform="translate(1070.61,1076.9) scale(0.7600,1)" font-size="25.30" fill="#000" stroke="#000" stroke-width="0.5">K</text>
<circle cx="1129" cy="1070.5" r="8" fill="none" stroke="#000" stroke-width="1.3"/>
<line x1="1120.2" y1="1079" x2="1137.9" y2="1061.9" stroke="#000" stroke-width="1.3"/>
<text transform="translate(1138.72,1079.2) scale(0.8169,1)" font-size="25.30" fill="#000" stroke="#000" stroke-width="0.5">d</text>
<text transform="translate(94.67,1119.7) scale(0.8061,1)" font-size="25.30" fill="#000" stroke="#000" stroke-width="0.5">ПМм-1 125</text>
<text transform="translate(264.3,1119.7) scale(0.755,1)" font-size="25.3" stroke="#000" stroke-width="0.5">170</text>
<text transform="translate(309.1,1119.7) scale(0.755,1)" font-size="25.3" stroke="#000" stroke-width="0.5">152</text>
<text transform="translate(355.2,1119.7) scale(0.755,1)" font-size="25.3" stroke="#000" stroke-width="0.5">92</text>
<text transform="translate(403,1119.7) scale(0.755,1)" font-size="25.3" stroke="#000" stroke-width="0.5">23</text>
<text transform="translate(450.7,1119.7) scale(0.755,1)" font-size="25.3" stroke="#000" stroke-width="0.5">30</text>
<text transform="translate(498.2,1119.7) scale(0.755,1)" font-size="25.3" stroke="#000" stroke-width="0.5">60</text>
<text transform="translate(546.8,1119.7) scale(0.755,1)" font-size="25.3" stroke="#000" stroke-width="0.5">60</text>
<text transform="translate(593.6,1119.7) scale(0.755,1)" font-size="25.3" stroke="#000" stroke-width="0.5">94</text>
<text transform="translate(642.3,1119.7) scale(0.755,1)" font-size="25.3" stroke="#000" stroke-width="0.5">134</text>
<text transform="translate(689.1,1119.7) scale(0.755,1)" font-size="25.3" stroke="#000" stroke-width="0.5">M6</text>
<text transform="translate(737.6,1119.7) scale(0.755,1)" font-size="25.3" stroke="#000" stroke-width="0.5">148</text>
<text transform="translate(785.4,1119.7) scale(0.755,1)" font-size="25.3" stroke="#000" stroke-width="0.5">128</text>
<text transform="translate(833,1119.7) scale(0.755,1)" font-size="25.3" stroke="#000" stroke-width="0.5">113</text>
<text transform="translate(879.3,1119.7) scale(0.755,1)" font-size="25.3" stroke="#000" stroke-width="0.5">50</text>
<text transform="translate(927.2,1119.7) scale(0.755,1)" font-size="25.3" stroke="#000" stroke-width="0.5">35</text>
<text transform="translate(974.8,1119.7) scale(0.755,1)" font-size="25.3" stroke="#000" stroke-width="0.5">34</text>
<text transform="translate(1023.4,1119.7) scale(0.755,1)" font-size="25.3" stroke="#000" stroke-width="0.5">18</text>
<text transform="translate(1070.3,1119.7) scale(0.755,1)" font-size="25.3" stroke="#000" stroke-width="0.5">M8</text>
<text transform="translate(1118,1119.7) scale(0.755,1)" font-size="25.3" stroke="#000" stroke-width="0.5">6,5</text>
<text transform="translate(94.69,1162.7) scale(0.7961,1)" font-size="25.30" fill="#000" stroke="#000" stroke-width="0.5">ПМм-1 250</text>
<text transform="translate(264.3,1162.7) scale(0.755,1)" font-size="25.3" stroke="#000" stroke-width="0.5">182</text>
<text transform="translate(309.1,1162.7) scale(0.755,1)" font-size="25.3" stroke="#000" stroke-width="0.5">165</text>
<text transform="translate(356.4,1162.7) scale(0.755,1)" font-size="25.3" stroke="#000" stroke-width="0.5">107</text>
<text transform="translate(403,1162.7) scale(0.755,1)" font-size="25.3" stroke="#000" stroke-width="0.5">27</text>
<text transform="translate(450.7,1162.7) scale(0.755,1)" font-size="25.3" stroke="#000" stroke-width="0.5">35</text>
<text transform="translate(498.2,1162.7) scale(0.755,1)" font-size="25.3" stroke="#000" stroke-width="0.5">70</text>
<text transform="translate(546.8,1162.7) scale(0.755,1)" font-size="25.3" stroke="#000" stroke-width="0.5">53</text>
<text transform="translate(593.6,1162.7) scale(0.755,1)" font-size="25.3" stroke="#000" stroke-width="0.5">92</text>
<text transform="translate(642.3,1162.7) scale(0.755,1)" font-size="25.3" stroke="#000" stroke-width="0.5">142</text>
<text transform="translate(689.1,1162.7) scale(0.755,1)" font-size="25.3" stroke="#000" stroke-width="0.5">M6</text>
<text transform="translate(737.6,1162.7) scale(0.755,1)" font-size="25.3" stroke="#000" stroke-width="0.5">151</text>
<text transform="translate(785.4,1162.7) scale(0.755,1)" font-size="25.3" stroke="#000" stroke-width="0.5">130</text>
<text transform="translate(833,1162.7) scale(0.755,1)" font-size="25.3" stroke="#000" stroke-width="0.5">121</text>
<text transform="translate(879.3,1162.7) scale(0.755,1)" font-size="25.3" stroke="#000" stroke-width="0.5">50</text>
<text transform="translate(927.2,1162.7) scale(0.755,1)" font-size="25.3" stroke="#000" stroke-width="0.5">37</text>
<text transform="translate(974.8,1162.7) scale(0.755,1)" font-size="25.3" stroke="#000" stroke-width="0.5">34</text>
<text transform="translate(1022.2,1162.7) scale(0.755,1)" font-size="25.3" stroke="#000" stroke-width="0.5">20</text>
<text transform="translate(1070.3,1162.7) scale(0.755,1)" font-size="25.3" stroke="#000" stroke-width="0.5">M8</text>
<text transform="translate(1118,1162.7) scale(0.755,1)" font-size="25.3" stroke="#000" stroke-width="0.5">6,5</text>
<text transform="translate(94.69,1205.7) scale(0.7961,1)" font-size="25.30" fill="#000" stroke="#000" stroke-width="0.5">ПМм-1 400</text>
<text transform="translate(263.1,1205.7) scale(0.755,1)" font-size="25.3" stroke="#000" stroke-width="0.5">280</text>
<text transform="translate(307.9,1205.7) scale(0.755,1)" font-size="25.3" stroke="#000" stroke-width="0.5">257</text>
<text transform="translate(356.4,1205.7) scale(0.755,1)" font-size="25.3" stroke="#000" stroke-width="0.5">149</text>
<text transform="translate(403,1205.7) scale(0.755,1)" font-size="25.3" stroke="#000" stroke-width="0.5">31</text>
<text transform="translate(450.7,1205.7) scale(0.755,1)" font-size="25.3" stroke="#000" stroke-width="0.5">48</text>
<text transform="translate(498.2,1205.7) scale(0.755,1)" font-size="25.3" stroke="#000" stroke-width="0.5">60</text>
<text transform="translate(548,1205.7) scale(0.755,1)" font-size="25.3" stroke="#000" stroke-width="0.5">127</text>
<text transform="translate(594.8,1205.7) scale(0.755,1)" font-size="25.3" stroke="#000" stroke-width="0.5">170</text>
<text transform="translate(641.1,1205.7) scale(0.755,1)" font-size="25.3" stroke="#000" stroke-width="0.5">223</text>
<text transform="translate(689.1,1205.7) scale(0.755,1)" font-size="25.3" stroke="#000" stroke-width="0.5">M8</text>
<text transform="translate(736.4,1205.7) scale(0.755,1)" font-size="25.3" stroke="#000" stroke-width="0.5">209</text>
<text transform="translate(785.4,1205.7) scale(0.755,1)" font-size="25.3" stroke="#000" stroke-width="0.5">173</text>
<text transform="translate(833,1205.7) scale(0.755,1)" font-size="25.3" stroke="#000" stroke-width="0.5">158</text>
<text transform="translate(879.3,1205.7) scale(0.755,1)" font-size="25.3" stroke="#000" stroke-width="0.5">59</text>
<text transform="translate(927.2,1205.7) scale(0.755,1)" font-size="25.3" stroke="#000" stroke-width="0.5">44</text>
<text transform="translate(974.8,1205.7) scale(0.755,1)" font-size="25.3" stroke="#000" stroke-width="0.5">40</text>
<text transform="translate(1022.2,1205.7) scale(0.755,1)" font-size="25.3" stroke="#000" stroke-width="0.5">22</text>
<text transform="translate(1070.3,1205.7) scale(0.755,1)" font-size="25.3" stroke="#000" stroke-width="0.5">M12</text>
<text transform="translate(1118,1205.7) scale(0.755,1)" font-size="25.3" stroke="#000" stroke-width="0.5">8,5</text>
<text transform="translate(94.69,1248.7) scale(0.7948,1)" font-size="25.30" fill="#000" stroke="#000" stroke-width="0.5">ПМм-1 630/800</text>
<text transform="translate(263.1,1248.7) scale(0.755,1)" font-size="25.3" stroke="#000" stroke-width="0.5">303</text>
<text transform="translate(307.9,1248.7) scale(0.755,1)" font-size="25.3" stroke="#000" stroke-width="0.5">281</text>
<text transform="translate(355.2,1248.7) scale(0.755,1)" font-size="25.3" stroke="#000" stroke-width="0.5">210</text>
<text transform="translate(403,1248.7) scale(0.755,1)" font-size="25.3" stroke="#000" stroke-width="0.5">41</text>
<text transform="translate(450.7,1248.7) scale(0.755,1)" font-size="25.3" stroke="#000" stroke-width="0.5">70</text>
<text transform="translate(498.2,1248.7) scale(0.755,1)" font-size="25.3" stroke="#000" stroke-width="0.5">90</text>
<text transform="translate(548,1248.7) scale(0.755,1)" font-size="25.3" stroke="#000" stroke-width="0.5">144</text>
<text transform="translate(594.8,1248.7) scale(0.755,1)" font-size="25.3" stroke="#000" stroke-width="0.5">178</text>
<text transform="translate(641.1,1248.7) scale(0.755,1)" font-size="25.3" stroke="#000" stroke-width="0.5">240</text>
<text transform="translate(689.1,1248.7) scale(0.755,1)" font-size="25.3" stroke="#000" stroke-width="0.5">M10</text>
<text transform="translate(736.4,1248.7) scale(0.755,1)" font-size="25.3" stroke="#000" stroke-width="0.5">245</text>
<text transform="translate(784.2,1248.7) scale(0.755,1)" font-size="25.3" stroke="#000" stroke-width="0.5">209</text>
<text transform="translate(833,1248.7) scale(0.755,1)" font-size="25.3" stroke="#000" stroke-width="0.5">191</text>
<text transform="translate(879.3,1248.7) scale(0.755,1)" font-size="25.3" stroke="#000" stroke-width="0.5">87</text>
<text transform="translate(928.4,1248.7) scale(0.755,1)" font-size="25.3" stroke="#000" stroke-width="0.5">19</text>
<text transform="translate(974.8,1248.7) scale(0.755,1)" font-size="25.3" stroke="#000" stroke-width="0.5">61</text>
<text transform="translate(1025.6,1247.7) scale(0.9000,1)" font-size="25.30" fill="#000" stroke="#000" stroke-width="0.5">–</text>
<text transform="translate(1070.3,1248.7) scale(0.755,1)" font-size="25.3" stroke="#000" stroke-width="0.5">M14</text>
<text transform="translate(1119.2,1248.7) scale(0.755,1)" font-size="25.3" stroke="#000" stroke-width="0.5">11</text>
<text transform="translate(94.64,1291.7) scale(0.8196,1)" font-size="25.30" fill="#000" stroke="#000" stroke-width="0.5">ПМм-1 125е</text>
<text transform="translate(264.3,1291.7) scale(0.755,1)" font-size="25.3" stroke="#000" stroke-width="0.5">175</text>
<text transform="translate(311.6,1291.7) scale(0.755,1)" font-size="25.3" stroke="#000" stroke-width="0.5">155</text>
<text transform="translate(358,1291.7) scale(0.755,1)" font-size="25.3" stroke="#000" stroke-width="0.5">92</text>
<text transform="translate(405.3,1291.7) scale(0.755,1)" font-size="25.3" stroke="#000" stroke-width="0.5">23</text>
<text transform="translate(452.6,1291.7) scale(0.755,1)" font-size="25.3" stroke="#000" stroke-width="0.5">30</text>
<text transform="translate(500.2,1291.7) scale(0.755,1)" font-size="25.3" stroke="#000" stroke-width="0.5">60</text>
<text transform="translate(547.6,1291.7) scale(0.755,1)" font-size="25.3" stroke="#000" stroke-width="0.5">63</text>
<text transform="translate(594.8,1291.7) scale(0.755,1)" font-size="25.3" stroke="#000" stroke-width="0.5">98</text>
<text transform="translate(643.5,1291.7) scale(0.755,1)" font-size="25.3" stroke="#000" stroke-width="0.5">139</text>
<text transform="translate(689.2,1291.7) scale(0.755,1)" font-size="25.3" stroke="#000" stroke-width="0.5">M6</text>
<text transform="translate(738.2,1291.7) scale(0.755,1)" font-size="25.3" stroke="#000" stroke-width="0.5">166</text>
<text transform="translate(786.3,1291.7) scale(0.755,1)" font-size="25.3" stroke="#000" stroke-width="0.5">146</text>
<text transform="translate(833.9,1291.7) scale(0.755,1)" font-size="25.3" stroke="#000" stroke-width="0.5">131</text>
<text transform="translate(880,1291.7) scale(0.755,1)" font-size="25.3" stroke="#000" stroke-width="0.5">50</text>
<text transform="translate(927.4,1291.7) scale(0.755,1)" font-size="25.3" stroke="#000" stroke-width="0.5">35</text>
<text transform="translate(974.2,1291.7) scale(0.755,1)" font-size="25.3" stroke="#000" stroke-width="0.5">34</text>
<text transform="translate(1023.3,1291.7) scale(0.755,1)" font-size="25.3" stroke="#000" stroke-width="0.5">18</text>
<text transform="translate(1069.4,1291.7) scale(0.755,1)" font-size="25.3" stroke="#000" stroke-width="0.5">M8</text>
<text transform="translate(1118.3,1291.7) scale(0.755,1)" font-size="25.3" stroke="#000" stroke-width="0.5">6,5</text>
<text transform="translate(94.66,1334.7) scale(0.8088,1)" font-size="25.30" fill="#000" stroke="#000" stroke-width="0.5">ПМм-1 250е</text>
<text transform="translate(264.3,1334.7) scale(0.755,1)" font-size="25.3" stroke="#000" stroke-width="0.5">181</text>
<text transform="translate(311.6,1334.7) scale(0.755,1)" font-size="25.3" stroke="#000" stroke-width="0.5">166</text>
<text transform="translate(359.2,1334.7) scale(0.755,1)" font-size="25.3" stroke="#000" stroke-width="0.5">107</text>
<text transform="translate(405.3,1334.7) scale(0.755,1)" font-size="25.3" stroke="#000" stroke-width="0.5">27</text>
<text transform="translate(452.6,1334.7) scale(0.755,1)" font-size="25.3" stroke="#000" stroke-width="0.5">35</text>
<text transform="translate(500.2,1334.7) scale(0.755,1)" font-size="25.3" stroke="#000" stroke-width="0.5">68</text>
<text transform="translate(547.6,1334.7) scale(0.755,1)" font-size="25.3" stroke="#000" stroke-width="0.5">52</text>
<text transform="translate(594.8,1334.7) scale(0.755,1)" font-size="25.3" stroke="#000" stroke-width="0.5">91</text>
<text transform="translate(643.5,1334.7) scale(0.755,1)" font-size="25.3" stroke="#000" stroke-width="0.5">140</text>
<text transform="translate(689.2,1334.7) scale(0.755,1)" font-size="25.3" stroke="#000" stroke-width="0.5">M6</text>
<text transform="translate(738.2,1334.7) scale(0.755,1)" font-size="25.3" stroke="#000" stroke-width="0.5">167</text>
<text transform="translate(786.3,1334.7) scale(0.755,1)" font-size="25.3" stroke="#000" stroke-width="0.5">145</text>
<text transform="translate(833.9,1334.7) scale(0.755,1)" font-size="25.3" stroke="#000" stroke-width="0.5">135</text>
<text transform="translate(880,1334.7) scale(0.755,1)" font-size="25.3" stroke="#000" stroke-width="0.5">50</text>
<text transform="translate(927.4,1334.7) scale(0.755,1)" font-size="25.3" stroke="#000" stroke-width="0.5">37</text>
<text transform="translate(974.2,1334.7) scale(0.755,1)" font-size="25.3" stroke="#000" stroke-width="0.5">34</text>
<text transform="translate(1022.1,1334.7) scale(0.755,1)" font-size="25.3" stroke="#000" stroke-width="0.5">20</text>
<text transform="translate(1069.4,1334.7) scale(0.755,1)" font-size="25.3" stroke="#000" stroke-width="0.5">M8</text>
<text transform="translate(1118.3,1334.7) scale(0.755,1)" font-size="25.3" stroke="#000" stroke-width="0.5">6,5</text>
<text transform="translate(94.71,1377.7) scale(0.7866,1)" font-size="25.30" fill="#000" stroke="#000" stroke-width="0.5">ПМм-1 400е/630е</text>
<text transform="translate(263.1,1377.7) scale(0.755,1)" font-size="25.3" stroke="#000" stroke-width="0.5">280</text>
<text transform="translate(310.4,1377.7) scale(0.755,1)" font-size="25.3" stroke="#000" stroke-width="0.5">257</text>
<text transform="translate(359.2,1377.7) scale(0.755,1)" font-size="25.3" stroke="#000" stroke-width="0.5">149</text>
<text transform="translate(405.3,1377.7) scale(0.755,1)" font-size="25.3" stroke="#000" stroke-width="0.5">31</text>
<text transform="translate(452.6,1377.7) scale(0.755,1)" font-size="25.3" stroke="#000" stroke-width="0.5">48</text>
<text transform="translate(500.2,1377.7) scale(0.755,1)" font-size="25.3" stroke="#000" stroke-width="0.5">60</text>
<text transform="translate(548.8,1377.7) scale(0.755,1)" font-size="25.3" stroke="#000" stroke-width="0.5">127</text>
<text transform="translate(596,1377.7) scale(0.755,1)" font-size="25.3" stroke="#000" stroke-width="0.5">170</text>
<text transform="translate(642.3,1377.7) scale(0.755,1)" font-size="25.3" stroke="#000" stroke-width="0.5">223</text>
<text transform="translate(689.2,1377.7) scale(0.755,1)" font-size="25.3" stroke="#000" stroke-width="0.5">M8</text>
<text transform="translate(737,1377.7) scale(0.755,1)" font-size="25.3" stroke="#000" stroke-width="0.5">209</text>
<text transform="translate(786.3,1377.7) scale(0.755,1)" font-size="25.3" stroke="#000" stroke-width="0.5">173</text>
<text transform="translate(833.9,1377.7) scale(0.755,1)" font-size="25.3" stroke="#000" stroke-width="0.5">158</text>
<text transform="translate(880,1377.7) scale(0.755,1)" font-size="25.3" stroke="#000" stroke-width="0.5">59</text>
<text transform="translate(927.4,1377.7) scale(0.755,1)" font-size="25.3" stroke="#000" stroke-width="0.5">44</text>
<text transform="translate(974.2,1377.7) scale(0.755,1)" font-size="25.3" stroke="#000" stroke-width="0.5">40</text>
<text transform="translate(1022.1,1377.7) scale(0.755,1)" font-size="25.3" stroke="#000" stroke-width="0.5">22</text>
<text transform="translate(1069.4,1377.7) scale(0.755,1)" font-size="25.3" stroke="#000" stroke-width="0.5">M12</text>
<text transform="translate(1118.3,1377.7) scale(0.755,1)" font-size="25.3" stroke="#000" stroke-width="0.5">8,5</text>
<text transform="translate(94.66,1420.7) scale(0.8088,1)" font-size="25.30" fill="#000" stroke="#000" stroke-width="0.5">ПМм-1 800е</text>
<text transform="translate(263.1,1420.7) scale(0.755,1)" font-size="25.3" stroke="#000" stroke-width="0.5">303</text>
<text transform="translate(310.4,1420.7) scale(0.755,1)" font-size="25.3" stroke="#000" stroke-width="0.5">281</text>
<text transform="translate(358,1420.7) scale(0.755,1)" font-size="25.3" stroke="#000" stroke-width="0.5">210</text>
<text transform="translate(405.3,1420.7) scale(0.755,1)" font-size="25.3" stroke="#000" stroke-width="0.5">41</text>
<text transform="translate(452.6,1420.7) scale(0.755,1)" font-size="25.3" stroke="#000" stroke-width="0.5">70</text>
<text transform="translate(500.2,1420.7) scale(0.755,1)" font-size="25.3" stroke="#000" stroke-width="0.5">90</text>
<text transform="translate(548.8,1420.7) scale(0.755,1)" font-size="25.3" stroke="#000" stroke-width="0.5">144</text>
<text transform="translate(596,1420.7) scale(0.755,1)" font-size="25.3" stroke="#000" stroke-width="0.5">178</text>
<text transform="translate(642.3,1420.7) scale(0.755,1)" font-size="25.3" stroke="#000" stroke-width="0.5">240</text>
<text transform="translate(689.2,1420.7) scale(0.755,1)" font-size="25.3" stroke="#000" stroke-width="0.5">M10</text>
<text transform="translate(737,1420.7) scale(0.755,1)" font-size="25.3" stroke="#000" stroke-width="0.5">245</text>
<text transform="translate(785.1,1420.7) scale(0.755,1)" font-size="25.3" stroke="#000" stroke-width="0.5">209</text>
<text transform="translate(833.9,1420.7) scale(0.755,1)" font-size="25.3" stroke="#000" stroke-width="0.5">191</text>
<text transform="translate(880,1420.7) scale(0.755,1)" font-size="25.3" stroke="#000" stroke-width="0.5">87</text>
<text transform="translate(928.6,1420.7) scale(0.755,1)" font-size="25.3" stroke="#000" stroke-width="0.5">19</text>
<text transform="translate(974.2,1420.7) scale(0.755,1)" font-size="25.3" stroke="#000" stroke-width="0.5">61</text>
<text transform="translate(1025.5,1419.7) scale(0.9000,1)" font-size="25.30" fill="#000" stroke="#000" stroke-width="0.5">–</text>
<text transform="translate(1069.4,1420.7) scale(0.755,1)" font-size="25.3" stroke="#000" stroke-width="0.5">M14</text>
<text transform="translate(1119.5,1420.7) scale(0.755,1)" font-size="25.3" stroke="#000" stroke-width="0.5">11</text>
</svg>
</body></html>
